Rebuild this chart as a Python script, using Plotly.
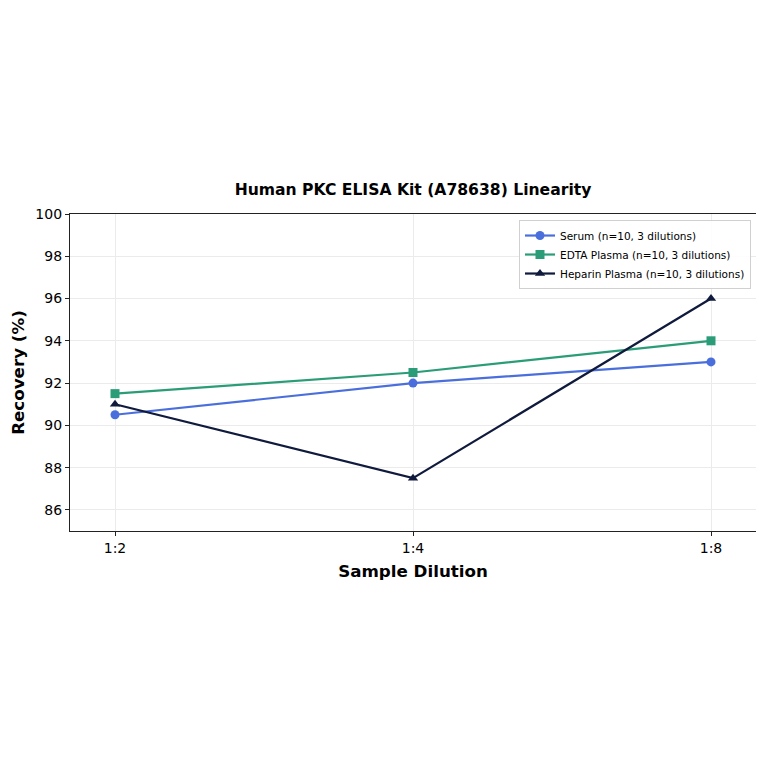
import plotly.graph_objects as go

categories = ["1:2", "1:4", "1:8"]
serum = [90.5, 92.0, 93.0]
edta = [91.5, 92.5, 94.0]
heparin = [91.0, 87.5, 96.0]
series_names = ["Serum (n=10, 3 dilutions)", "EDTA Plasma (n=10, 3 dilutions)", "Heparin Plasma (n=10, 3 dilutions)"]
y_ticks = [86, 88, 90, 92, 94, 96, 98, 100]

colors = ["#4a6fdc", "#2a9d78", "#0f1a3c"]
symbols = ["circle", "square", "triangle-up"]

W = H = 756

fig = go.Figure()
for name, vals, c, s in zip(series_names, [serum, edta, heparin], colors, symbols):
    fig.add_trace(go.Scatter(
        x=[0, 1, 2], y=vals, mode="lines+markers", name=name,
        line=dict(color=c, width=2.2),
        marker=dict(symbol=s, size=9, color=c),
    ))

fig.update_layout(
    width=W, height=H,
    paper_bgcolor="white", plot_bgcolor="white",
    margin=dict(l=62, r=8, t=206, b=233, autoexpand=False),
    font=dict(family="DejaVu Sans", color="black"),
    title=dict(text="<b>Human PKC ELISA Kit (A78638) Linearity</b>", x=0.5, xanchor="center",
               xref="paper", y=1 - 182 / H, yanchor="middle", font=dict(size=15.6),
               automargin=False),
    xaxis=dict(
        range=[-0.151, 2.151], tickmode="array", tickvals=[0, 1, 2], ticktext=categories,
        showgrid=True, gridcolor="#ebebeb", gridwidth=1,
        showline=True, linecolor="#222", linewidth=1.2, mirror=True,
        ticks="outside", ticklen=4, tickcolor="#222", tickfont=dict(size=14),
        title=dict(text="<b>Sample Dilution</b>", font=dict(size=16.7), standoff=10),
        zeroline=False, automargin=False,
    ),
    yaxis=dict(
        range=[85, 100], tickmode="array", tickvals=y_ticks,
        showgrid=True, gridcolor="#ebebeb", gridwidth=1,
        showline=True, linecolor="#222", linewidth=1.2, mirror=True,
        ticks="outside", ticklen=4, tickcolor="#222", tickfont=dict(size=14),
        title=dict(text="<b>Recovery (%)</b>", font=dict(size=16.7), standoff=8),
        zeroline=False, automargin=False,
    ),
    legend=dict(x=0.9927, y=0.981, xanchor="right", yanchor="top",
                bgcolor="rgba(255,255,255,0.9)", bordercolor="#d0d0d0", borderwidth=1,
                font=dict(size=10.5), tracegroupgap=0, itemwidth=30),
)

fig.write_html("out.html")
